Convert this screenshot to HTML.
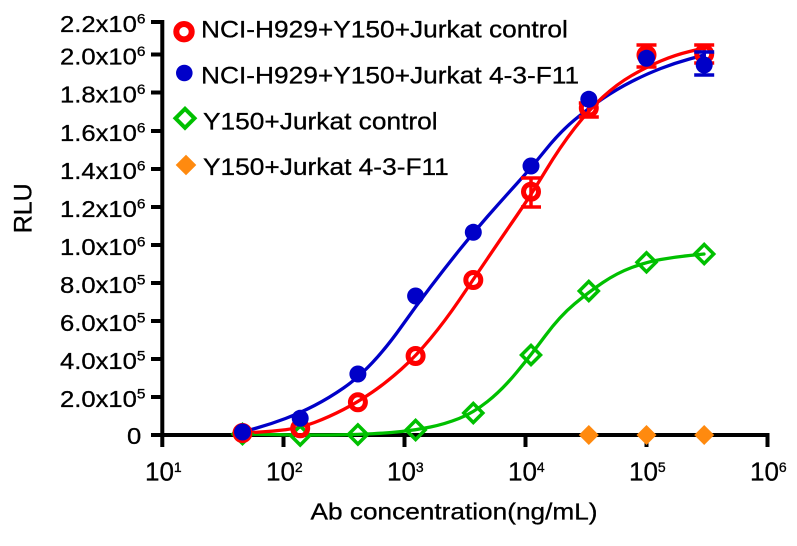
<!DOCTYPE html>
<html>
<head>
<meta charset="utf-8">
<style>
  html,body{margin:0;padding:0;background:#fff;}
  svg{display:block;}
</style>
</head>
<body>
<svg width="797" height="546" xmlns="http://www.w3.org/2000/svg" font-family="'Liberation Sans', Arial, sans-serif" fill="#000">
  <rect x="0" y="0" width="797" height="546" fill="#fff"/>

  <!-- Axes -->
  <g stroke="#000" stroke-width="4" fill="none">
    <line x1="162.3" y1="20" x2="162.3" y2="447"/>
    <line x1="151" y1="435" x2="769.5" y2="435"/>
    <line x1="151" y1="22" x2="162" y2="22"/>
    <line x1="151" y1="54.5" x2="162" y2="54.5"/>
    <line x1="151" y1="92.5" x2="162" y2="92.5"/>
    <line x1="151" y1="131" x2="162" y2="131"/>
    <line x1="151" y1="169" x2="162" y2="169"/>
    <line x1="151" y1="207" x2="162" y2="207"/>
    <line x1="151" y1="245" x2="162" y2="245"/>
    <line x1="151" y1="283" x2="162" y2="283"/>
    <line x1="151" y1="321" x2="162" y2="321"/>
    <line x1="151" y1="359" x2="162" y2="359"/>
    <line x1="151" y1="397" x2="162" y2="397"/>
    <line x1="283.5" y1="435" x2="283.5" y2="447"/>
    <line x1="404.5" y1="435" x2="404.5" y2="447"/>
    <line x1="525.5" y1="435" x2="525.5" y2="447"/>
    <line x1="646.5" y1="435" x2="646.5" y2="447"/>
    <line x1="767.5" y1="435" x2="767.5" y2="447"/>
  </g>

  <!-- Y tick labels -->
  <g font-size="23.3" text-anchor="end" stroke="#000" stroke-width="0.3">
    <text transform="translate(145.5,32) scale(1.1,1)">2.2x10<tspan dy="-8.4" font-size="14">6</tspan></text>
    <text transform="translate(145.5,64.5) scale(1.1,1)">2.0x10<tspan dy="-8.4" font-size="14">6</tspan></text>
    <text transform="translate(145.5,102.5) scale(1.1,1)">1.8x10<tspan dy="-8.4" font-size="14">6</tspan></text>
    <text transform="translate(145.5,141) scale(1.1,1)">1.6x10<tspan dy="-8.4" font-size="14">6</tspan></text>
    <text transform="translate(145.5,179) scale(1.1,1)">1.4x10<tspan dy="-8.4" font-size="14">6</tspan></text>
    <text transform="translate(145.5,217) scale(1.1,1)">1.2x10<tspan dy="-8.4" font-size="14">6</tspan></text>
    <text transform="translate(145.5,255) scale(1.1,1)">1.0x10<tspan dy="-8.4" font-size="14">6</tspan></text>
    <text transform="translate(145.5,293) scale(1.1,1)">8.0x10<tspan dy="-8.4" font-size="14">5</tspan></text>
    <text transform="translate(145.5,331) scale(1.1,1)">6.0x10<tspan dy="-8.4" font-size="14">5</tspan></text>
    <text transform="translate(145.5,369) scale(1.1,1)">4.0x10<tspan dy="-8.4" font-size="14">5</tspan></text>
    <text transform="translate(145.5,407) scale(1.1,1)">2.0x10<tspan dy="-8.4" font-size="14">5</tspan></text>
    <text transform="translate(141.2,444) scale(1.1,1)">0</text>
  </g>

  <!-- X tick labels -->
  <g font-size="26" stroke="#000" stroke-width="0.3">
    <text x="145" y="480.5">10<tspan dy="-8.5" font-size="14">1</tspan></text>
    <text x="266" y="480.5">10<tspan dy="-8.5" font-size="14">2</tspan></text>
    <text x="387" y="480.5">10<tspan dy="-8.5" font-size="14">3</tspan></text>
    <text x="508" y="480.5">10<tspan dy="-8.5" font-size="14">4</tspan></text>
    <text x="629" y="480.5">10<tspan dy="-8.5" font-size="14">5</tspan></text>
    <text x="750" y="480.5">10<tspan dy="-8.5" font-size="14">6</tspan></text>
  </g>

  <!-- Axis titles -->
  <g stroke="#000" stroke-width="0.3">
    <text transform="translate(310.5,519.5) scale(1.13,1)" font-size="23.2">Ab concentration(ng/mL)</text>
    <text transform="translate(31.5,208.3) rotate(-90)" font-size="25" text-anchor="middle">RLU</text>
  </g>

  <!-- Curves -->
  <g fill="none" stroke-width="3.3" stroke-linejoin="round" stroke-linecap="round">
    <path stroke="#00C000" d="M242.5,434 L256.75,434.25 Q271,434.5 285.5,434.75 Q300,435 314.5,435 Q329,435 343.5,434.75 Q358,434.5 372.5,433.75 Q387,433 401.5,431.5 Q416,430 430.5,427 Q445,424 459,418.5 Q473,413 487.5,401.5 Q502,390 516.5,372.5 Q531,355 545.5,335.5 Q560,316 574.4,304 Q588.8,292 602.9,282.5 Q617,273 631.75,267.5 Q646.5,262 660.75,259.5 Q675,257 689.5,255.5 L704,254"/>
    <path stroke="#0000C8" d="M242.5,432 L256.75,428 Q271,424 285.5,418.5 Q300,413 314.5,405.5 Q329,398 343.5,388 Q358,378 372.5,362.5 Q387,347 401.5,326.5 Q416,306 430.5,287 Q445,268 459,250.5 Q473,233 487.5,216.5 Q502,200 516.5,184 Q531,168 545.5,150 Q560,132 574.4,120 Q588.8,108 602.9,98.5 Q617,89 631.75,81.5 Q646.5,74 660.75,68.5 Q675,63 689.5,59 L704,55"/>
    <path stroke="#FF0000" d="M242.5,433 L256.75,432.25 Q271,431.5 285.5,429.75 Q300,428 314.5,422.5 Q329,417 343.5,409.5 Q358,402 372.5,392 Q387,382 401.5,369 Q416,356 430.5,338.5 Q445,321 459,300.5 Q473,280 487.5,258.5 Q502,237 516.5,216 Q531,195 545.5,171 Q560,147 574.4,128.5 Q588.8,110 602.9,97 Q617,84 631.75,75.5 Q646.5,67 660.75,61 Q675,55 689.5,51.5 L704,48"/>
  </g>

  <!-- Green diamonds (open) -->
  <g fill="none" stroke="#00C000" stroke-width="3.5">
    <path d="M242.5,424.5 L252,434 L242.5,443.5 L233,434 Z"/>
    <path d="M300.2,426 L309.7,435.5 L300.2,445 L290.7,435.5 Z"/>
    <path d="M357.9,425 L367.4,434.5 L357.9,444 L348.4,434.5 Z"/>
    <path d="M415.6,420.5 L425.1,430 L415.6,439.5 L406.1,430 Z"/>
    <path d="M473.3,403.5 L482.8,413 L473.3,422.5 L463.8,413 Z"/>
    <path d="M531,345.5 L540.5,355 L531,364.5 L521.5,355 Z"/>
    <path d="M588.8,281.5 L598.3,291 L588.8,300.5 L579.3,291 Z"/>
    <path d="M646.5,252.8 L656,262.3 L646.5,271.8 L637,262.3 Z"/>
    <path d="M704.2,244.5 L713.7,254 L704.2,263.5 L694.7,254 Z"/>
  </g>

  <!-- Red error bars -->
  <g stroke="#FF0000" stroke-width="3.5" fill="none">
    <line x1="531" y1="178" x2="531" y2="207"/>
    <line x1="521" y1="178" x2="541" y2="178"/>
    <line x1="521" y1="207" x2="541" y2="207"/>
    <line x1="588.8" y1="103" x2="588.8" y2="117"/>
    <line x1="578.8" y1="103" x2="598.8" y2="103"/>
    <line x1="578.8" y1="117" x2="598.8" y2="117"/>
    <line x1="646.5" y1="45" x2="646.5" y2="67"/>
    <line x1="636.5" y1="45" x2="656.5" y2="45"/>
    <line x1="636.5" y1="67" x2="656.5" y2="67"/>
    <line x1="704.2" y1="45" x2="704.2" y2="63"/>
    <line x1="694.2" y1="45" x2="714.2" y2="45"/>
    <line x1="694.2" y1="63" x2="714.2" y2="63"/>
  </g>

  <!-- Red open circles -->
  <g fill="none" stroke="#FF0000" stroke-width="5">
    <circle cx="242.5" cy="433" r="7.5"/>
    <circle cx="300.2" cy="428.3" r="7.5"/>
    <circle cx="357.9" cy="402.3" r="7.5"/>
    <circle cx="415.6" cy="356" r="7.5"/>
    <circle cx="473.3" cy="280" r="7.5"/>
    <circle cx="531" cy="191.7" r="7.5"/>
    <circle cx="588.8" cy="108" r="7.5"/>
    <circle cx="646.5" cy="55" r="7.5"/>
    <circle cx="704.2" cy="54" r="7.5"/>
  </g>

  <!-- Blue error bars -->
  <g stroke="#0000C8" stroke-width="3.5" fill="none">
    <line x1="704.2" y1="52" x2="704.2" y2="75"/>
    <line x1="694.2" y1="75" x2="714.2" y2="75"/>
    <line x1="694.2" y1="52" x2="714.2" y2="52"/>
  </g>

  <!-- Blue filled circles -->
  <g fill="#0000C8">
    <circle cx="242.5" cy="432" r="8.5"/>
    <circle cx="300.2" cy="418.3" r="8.5"/>
    <circle cx="357.9" cy="374" r="8.5"/>
    <circle cx="415.6" cy="296" r="8.5"/>
    <circle cx="473.3" cy="232.3" r="8.5"/>
    <circle cx="531" cy="166" r="8.5"/>
    <circle cx="588.8" cy="99.3" r="8.5"/>
    <circle cx="646.5" cy="58.3" r="8.5"/>
    <circle cx="704.2" cy="65" r="8.5"/>
  </g>

  <!-- Orange filled diamonds -->
  <g fill="#FF8A0F">
    <path d="M588.8,425 L598.8,435 L588.8,445 L578.8,435 Z"/>
    <path d="M646.5,425 L656.5,435 L646.5,445 L636.5,435 Z"/>
    <path d="M704.2,425 L714.2,435 L704.2,445 L694.2,435 Z"/>
  </g>

  <!-- Legend -->
  <circle cx="184" cy="31.7" r="7.7" fill="none" stroke="#FF0000" stroke-width="6"/>
  <circle cx="184.3" cy="73" r="8.3" fill="#0000C8"/>
  <path d="M185,108.8 L194.5,118.3 L185,127.8 L175.5,118.3 Z" fill="none" stroke="#00C000" stroke-width="4"/>
  <path d="M186,154.7 L196.3,165 L186,175.3 L175.7,165 Z" fill="#FF8A0F"/>

  <g font-size="24.2" stroke="#000" stroke-width="0.3">
    <text transform="translate(201,37.5) scale(1.087,1)">NCI-H929+Y150+Jurkat control</text>
    <text transform="translate(201,83.3) scale(1.087,1)">NCI-H929+Y150+Jurkat 4-3-F11</text>
    <text transform="translate(203,129.3) scale(1.087,1)">Y150+Jurkat control</text>
    <text transform="translate(203,175) scale(1.087,1)">Y150+Jurkat 4-3-F11</text>
  </g>
</svg>
</body>
</html>
